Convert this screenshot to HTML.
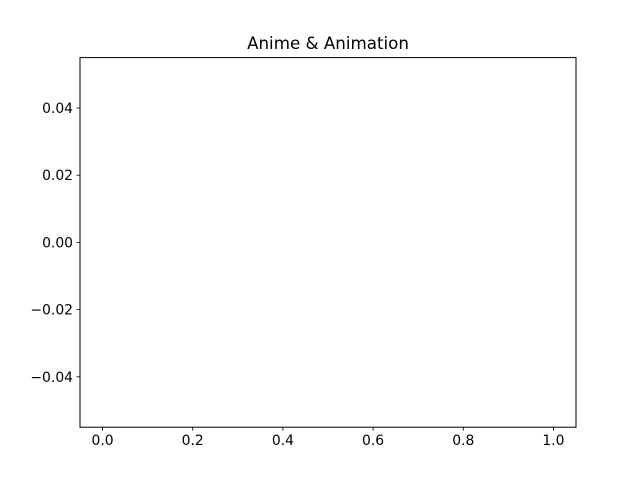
<!DOCTYPE html>
<html>
<head>
<meta charset="utf-8">
<style>
  html, body { margin: 0; padding: 0; background: #fff; }
  svg { display: block; }
  text { font-family: "DejaVu Sans", "Liberation Sans", sans-serif; fill: #000; }
</style>
</head>
<body>
<svg id="chart" width="640" height="480" viewBox="0 0 640 480">
  <rect x="0" y="0" width="640" height="480" fill="#fff"></rect>
  <text x="328" y="49" font-size="16.7" text-anchor="middle">Anime &amp; Animation</text>
  <g id="xticks"></g>
  <g id="yticks"></g>
  <rect x="80" y="57.6" width="496" height="369.6" fill="none" stroke="#000" stroke-width="1"></rect>
</svg>
<script>
const xTicks = [0.0, 0.2, 0.4, 0.6, 0.8, 1.0];
const xTickLabels = ["0.0", "0.2", "0.4", "0.6", "0.8", "1.0"];
const yTicks = [-0.04, -0.02, 0.0, 0.02, 0.04];
const yTickLabels = ["\u22120.04", "\u22120.02", "0.00", "0.02", "0.04"];
const xDomain = [-0.05, 1.05];
const yDomain = [-0.055, 0.055];

const L = 80, R = 576, T = 57.6, B = 427.2;
const NS = "http://www.w3.org/2000/svg";
function xScale(v) { return L + (v - xDomain[0]) / (xDomain[1] - xDomain[0]) * (R - L); }
function yScale(v) { return B - (v - yDomain[0]) / (yDomain[1] - yDomain[0]) * (B - T); }

const gx = document.getElementById('xticks');
xTicks.forEach((v, i) => {
  const x = xScale(v);
  const ln = document.createElementNS(NS, 'line');
  ln.setAttribute('x1', x); ln.setAttribute('x2', x);
  ln.setAttribute('y1', B); ln.setAttribute('y2', B + 3.5);
  ln.setAttribute('stroke', '#000'); ln.setAttribute('stroke-width', '0.8');
  
  
  gx.appendChild(ln);
  const t = document.createElementNS(NS, 'text');
  t.setAttribute('x', x); t.setAttribute('y', B + 18);
  t.setAttribute('font-size', '13.9'); t.setAttribute('text-anchor', 'middle');
  t.textContent = xTickLabels[i];
  
  
  gx.appendChild(t);
});

const gy = document.getElementById('yticks');
yTicks.forEach((v, i) => {
  const y = yScale(v);
  const ln = document.createElementNS(NS, 'line');
  ln.setAttribute('x1', L - 3.5); ln.setAttribute('x2', L);
  ln.setAttribute('y1', y); ln.setAttribute('y2', y);
  ln.setAttribute('stroke', '#000'); ln.setAttribute('stroke-width', '0.8');
  
  
  gy.appendChild(ln);
  const t = document.createElementNS(NS, 'text');
  t.setAttribute('x', L - 7); t.setAttribute('y', y + 5);
  t.setAttribute('font-size', '13.9'); t.setAttribute('text-anchor', 'end');
  t.textContent = yTickLabels[i];
  
  
  gy.appendChild(t);
});
</script>
</body>
</html>
